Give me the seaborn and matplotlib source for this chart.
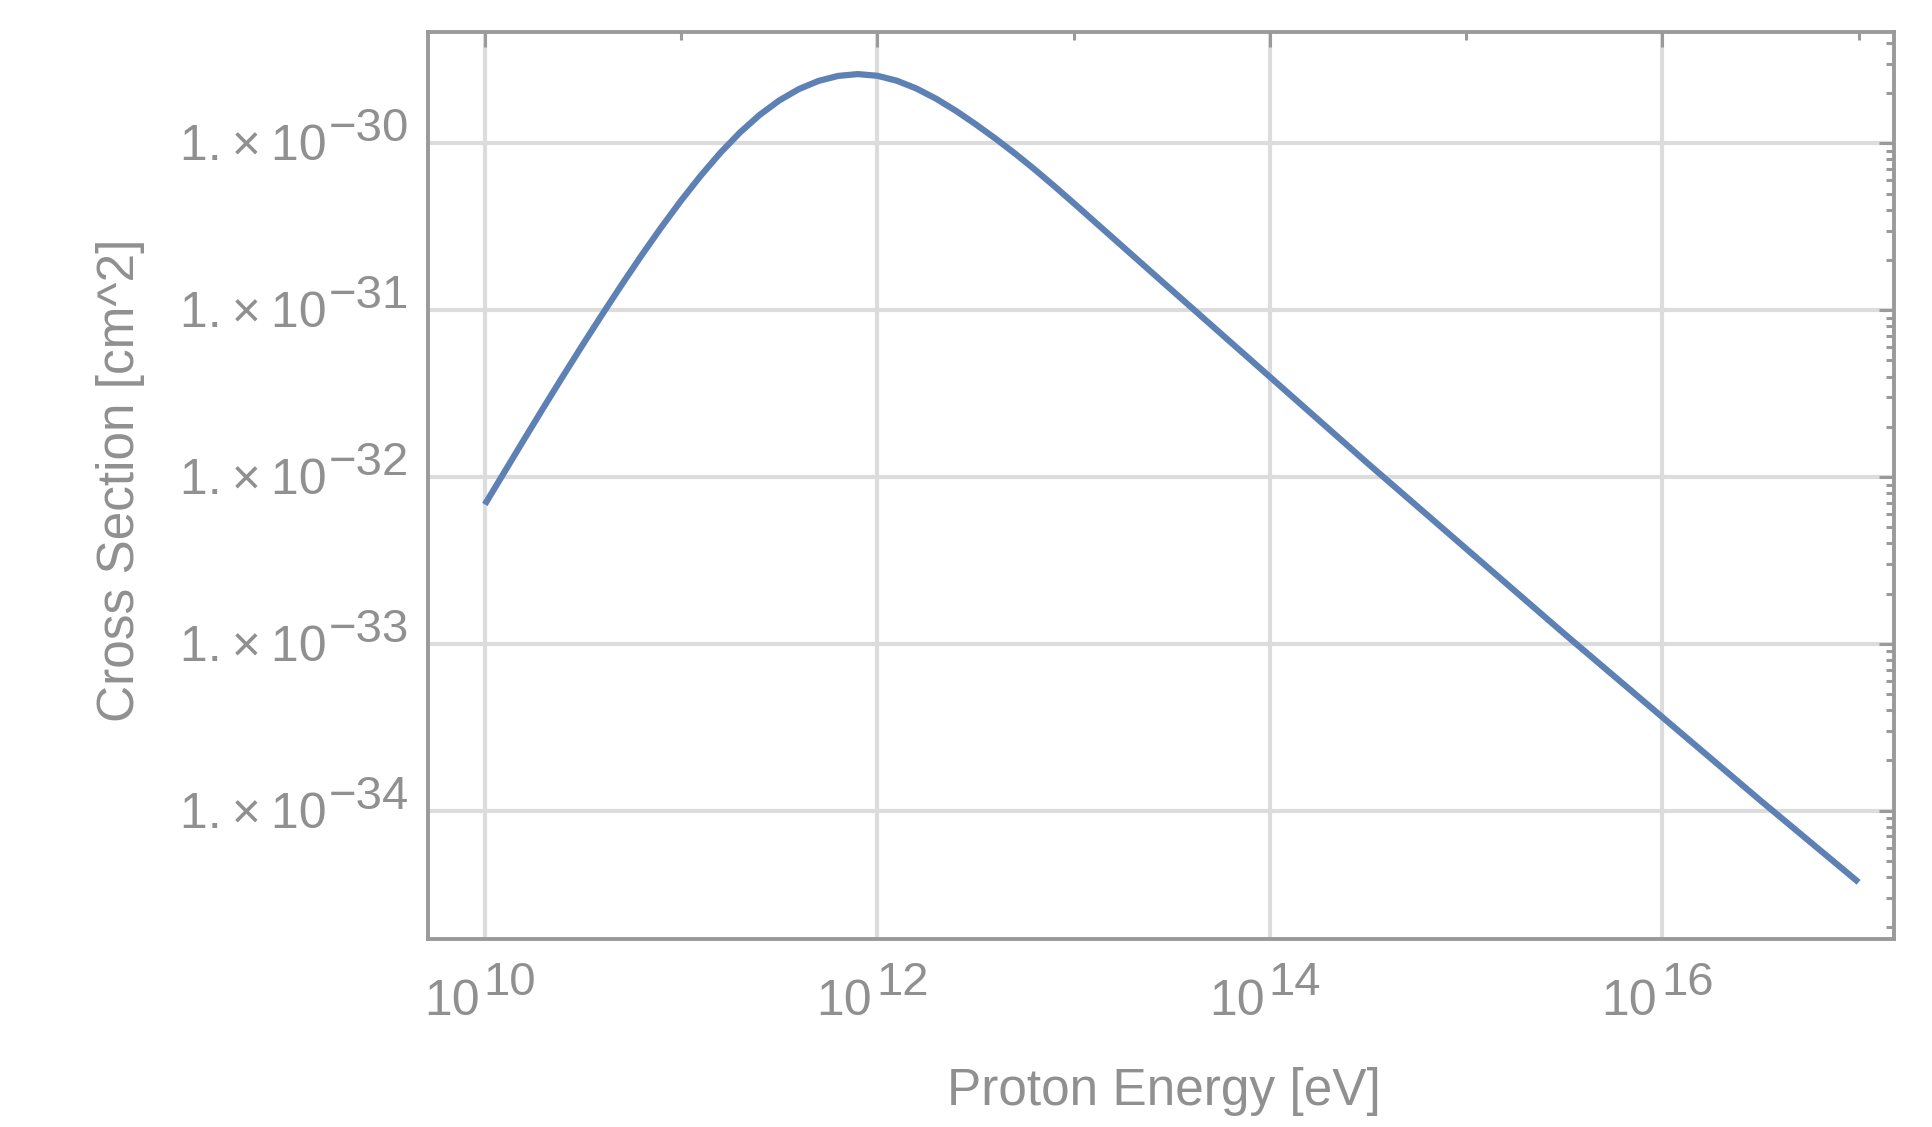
import matplotlib
matplotlib.use("Agg")
import matplotlib.pyplot as plt
import matplotlib.ticker as mticker
from matplotlib.transforms import blended_transform_factory, offset_copy
import seaborn as sns
import pandas as pd
import numpy as np

# curve (log10 values)
log_energy = [10.0, 10.1, 10.2, 10.3, 10.4, 10.5, 10.6, 10.7, 10.8, 10.9,
              11.0, 11.1, 11.2, 11.3, 11.4, 11.5, 11.6, 11.7, 11.8, 11.9,
              12.0, 12.1, 12.2, 12.3, 12.4, 12.5, 12.6, 12.7, 12.8, 12.9,
              13.0, 13.5, 14.0, 14.5, 15.0, 15.5, 16.0, 16.5, 17.0]
log_sigma = [-32.165, -31.97, -31.775, -31.582, -31.392, -31.205, -31.022, -30.843, -30.669, -30.502,
             -30.343, -30.194, -30.057, -29.935, -29.83, -29.743, -29.675, -29.626, -29.596, -29.585,
             -29.595, -29.625, -29.672, -29.733, -29.805, -29.885, -29.97, -30.06, -30.155, -30.255,
             -30.358, -30.88, -31.40, -31.92, -32.43, -32.94, -33.44, -33.94, -34.43]

x_label_exps = [10, 12, 14, 16]
y_label_exps = [-30, -31, -32, -33, -34]

df = pd.DataFrame({'energy': np.power(10.0, log_energy),
                   'sigma': np.power(10.0, log_sigma)})

sns.set_theme(style='white')
plt.rcParams['font.family'] = ['Liberation Sans', 'DejaVu Sans']

text_col = '#909090'
frame_col = '#9a9a9a'
line_col = '#5e81b5'

fig = plt.figure(figsize=(19.32, 11.27), dpi=100)
ax = fig.add_axes([0.2215, 0.1668, 0.9803 - 0.2215, 0.972 - 0.1668])

sns.lineplot(data=df, x='energy', y='sigma', color=line_col, linewidth=4.5,
             ax=ax, zorder=3)
ax.lines[0].set_solid_capstyle('butt')

ax.set_xscale('log')
ax.set_yscale('log')
ax.set_xlim(10 ** 9.71, 10 ** 17.18)
ax.set_ylim(10 ** -34.77, 10 ** -29.33)

# ticks: Mathematica-like inward frame ticks
ax.xaxis.set_major_locator(mticker.FixedLocator([10.0 ** e for e in x_label_exps]))
ax.xaxis.set_minor_locator(mticker.FixedLocator([10.0 ** e for e in [11, 13, 15, 17]]))
ax.yaxis.set_major_locator(mticker.FixedLocator([10.0 ** e for e in y_label_exps]))
ax.yaxis.set_minor_locator(mticker.LogLocator(base=10, subs=np.arange(2, 10), numticks=100))
ax.xaxis.set_major_formatter(mticker.NullFormatter())
ax.xaxis.set_minor_formatter(mticker.NullFormatter())
ax.yaxis.set_major_formatter(mticker.NullFormatter())
ax.yaxis.set_minor_formatter(mticker.NullFormatter())
ax.tick_params(which='both', direction='in', top=True, right=True, color=frame_col)
ax.tick_params(which='major', length=11, width=2.2)
ax.tick_params(which='minor', length=6, width=2.2)

ax.grid(True, which='major', color='#dcdcdc', linewidth=3, zorder=0)
for s in ax.spines.values():
    s.set_color(frame_col)
    s.set_linewidth(2.8)

# tick labels as base + superscript
xt = blended_transform_factory(ax.transData, ax.transAxes)
for e in x_label_exps:
    ax.text(10.0 ** e, -0.0837, '10', transform=offset_copy(xt, fig=fig, x=-5, y=0, units='dots'),
            ha='right', va='baseline', fontsize=36, color=text_col, clip_on=False)
    ax.text(10.0 ** e, -0.0837, str(e), transform=offset_copy(xt, fig=fig, x=-1, y=20, units='dots'),
            ha='left', va='baseline', fontsize=34, color=text_col, clip_on=False)

yt = blended_transform_factory(ax.transAxes, ax.transData)
for e in y_label_exps:
    ax.text(-0.0689, 10.0 ** e, '1.\u2009\u00d7\u200910', transform=offset_copy(yt, fig=fig, x=0, y=-17, units='dots'),
            ha='right', va='baseline', fontsize=36, color=text_col, clip_on=False)
    ax.text(-0.0675, 10.0 ** e, '\u2212' + str(abs(e)), transform=offset_copy(yt, fig=fig, x=0, y=2, units='dots'),
            ha='left', va='baseline', fontsize=34, color=text_col, clip_on=False)

ax.set_xlabel('Proton Energy [eV]', fontsize=37, color=text_col)
ax.set_ylabel('Cross Section [cm^2]', fontsize=37, color=text_col)
ax.xaxis.set_label_coords(0.502, -0.141)
ax.yaxis.set_label_coords(-0.193, 0.506)

fig.savefig('out.png', dpi=100)
